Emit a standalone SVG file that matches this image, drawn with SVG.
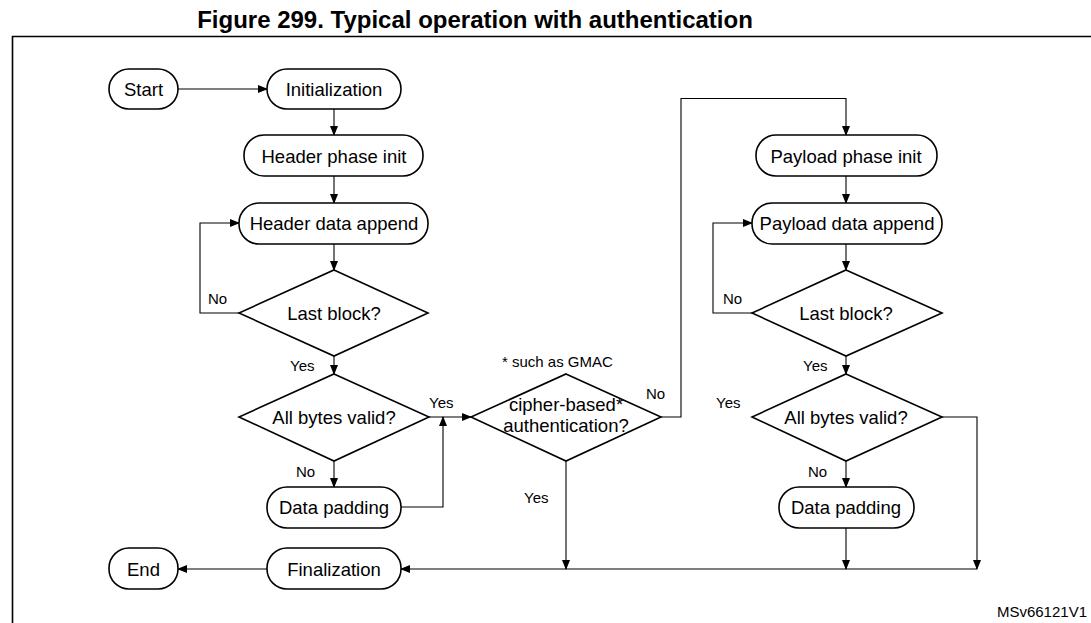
<svg xmlns="http://www.w3.org/2000/svg" width="1091" height="623" viewBox="0 0 1091 623">
<defs>
<marker id="a" markerWidth="10" markerHeight="8" refX="9" refY="4" orient="auto" markerUnits="userSpaceOnUse"><path d="M0,0 L10,4 L0,8 Z" fill="#000"/></marker>
<style>
.n{fill:#fff;stroke:#000;stroke-width:1.6}
.t{font-family:"Liberation Sans",Arial,sans-serif;font-size:18.5px;text-anchor:middle;dominant-baseline:central;fill:#000}
.l{font-family:"Liberation Sans",Arial,sans-serif;font-size:15px;fill:#000}
.c{fill:none;stroke:#000;stroke-width:1.1;marker-end:url(#a)}
</style>
</defs>
<rect width="1091" height="623" fill="#fff"/>
<text x="475" y="28" font-family="Liberation Sans,Arial,sans-serif" font-size="24" font-weight="bold" text-anchor="middle">Figure 299. Typical operation with authentication</text>
<path d="M12.5,623 V36.5 H1091" fill="none" stroke="#000" stroke-width="1.6"/>
<g id="connectors">
<path class="c" d="M178,89 H267"/>
<path class="c" d="M334,109 V135"/>
<path class="c" d="M334,176 V203"/>
<path class="c" d="M334,244 V270"/>
<path class="c" d="M239,313 H200 V223 H239"/>
<path class="c" d="M334,356 V374"/>
<path class="c" d="M334,461 V487"/>
<path class="c" d="M429,417 H471"/>
<path class="c" d="M401,507 H443 V417"/>
<path class="c" d="M661,417 H681 V98.5 H846 V135"/>
<path class="c" d="M846,176 V203"/>
<path class="c" d="M846,244 V270"/>
<path class="c" d="M752,313 H713 V223 H752"/>
<path class="c" d="M846,356 V374"/>
<path class="c" d="M846,461 V487"/>
<path class="c" d="M566,461 V569"/>
<path class="c" d="M846,528 V569"/>
<path class="c" d="M942,417 H977 V569"/>
<path class="c" d="M977,569 H401"/>
<path class="c" d="M267,569 H178"/>
</g>
<g id="start"><rect class="n" x="109" y="69" width="69" height="40" rx="20"/><text class="t" x="143.5" y="89">Start</text></g>
<g id="init"><rect class="n" x="267" y="69" width="134" height="40" rx="20"/><text class="t" x="334" y="89">Initialization</text></g>
<g id="hpi"><rect class="n" x="244" y="135" width="179" height="41" rx="20"/><text class="t" x="334" y="156">Header phase init</text></g>
<g id="hda"><rect class="n" x="239" y="203" width="189" height="41" rx="20"/><text class="t" x="334" y="223">Header data append</text></g>
<g id="lb1"><path class="n" d="M334,270 L428,313 L334,356 L239,313 Z"/><text class="t" x="334" y="313">Last block?</text></g>
<g id="abv1"><path class="n" d="M334,374 L429,417 L334,461 L239,417 Z"/><text class="t" x="334" y="417">All bytes valid?</text></g>
<g id="dp1"><rect class="n" x="267" y="487" width="134" height="41" rx="20"/><text class="t" x="334" y="507">Data padding</text></g>
<g id="cipher"><path class="n" d="M566,374 L661,417 L566,461 L471,417 Z"/><text class="t" x="566" y="404">cipher-based*</text><text class="t" x="566" y="425">authentication?</text></g>
<g id="ppi"><rect class="n" x="756" y="135" width="181" height="41" rx="20"/><text class="t" x="846" y="156">Payload phase init</text></g>
<g id="pda"><rect class="n" x="752" y="203" width="190" height="41" rx="20"/><text class="t" x="847" y="223">Payload data append</text></g>
<g id="lb2"><path class="n" d="M846,270 L942,313 L846,356 L752,313 Z"/><text class="t" x="846" y="313">Last block?</text></g>
<g id="abv2"><path class="n" d="M846,374 L942,417 L846,461 L752,417 Z"/><text class="t" x="846" y="417">All bytes valid?</text></g>
<g id="dp2"><rect class="n" x="779" y="487" width="135" height="41" rx="20"/><text class="t" x="846" y="507">Data padding</text></g>
<g id="fin"><rect class="n" x="267" y="548" width="134" height="41" rx="20"/><text class="t" x="334" y="569">Finalization</text></g>
<g id="end"><rect class="n" x="109" y="548" width="69" height="41" rx="20"/><text class="t" x="143.5" y="569">End</text></g>
<g id="labels">
<text class="l" x="208" y="304">No</text>
<text class="l" x="290" y="371">Yes</text>
<text class="l" x="296" y="477">No</text>
<text class="l" x="429" y="408">Yes</text>
<text class="l" x="502" y="367">* such as GMAC</text>
<text class="l" x="646" y="399">No</text>
<text class="l" x="524" y="503">Yes</text>
<text class="l" x="723" y="304">No</text>
<text class="l" x="803" y="371">Yes</text>
<text class="l" x="716" y="408">Yes</text>
<text class="l" x="808" y="477">No</text>
<text class="l" x="1087" y="617" text-anchor="end" font-size="14">MSv66121V1</text>
</g>
</svg>
